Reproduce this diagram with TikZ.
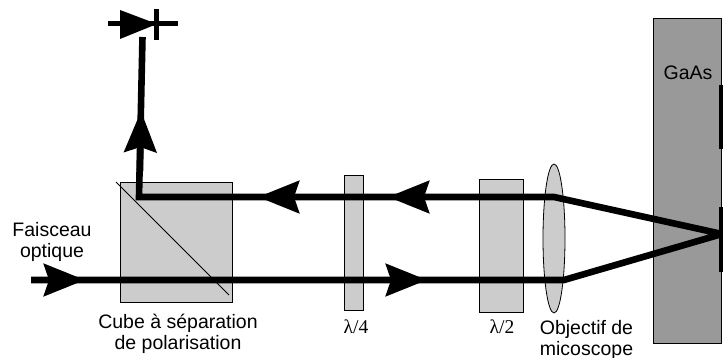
\documentclass[tikz,border=0pt]{standalone}
\usepackage{fontspec}
\setmainfont{Liberation Sans}
\newfontfamily\lamfont{Liberation Serif}
\usetikzlibrary{arrows.meta,shapes.geometric}
\tikzset{
	optic/.style={draw=black,fill=black!20,line width=0.8pt,inner sep=0,outer sep=0},
	beam/.style={line width=6.6pt,draw=black,line join=miter},
	headed/.style={beam,-{Stealth[length=41pt,width=32pt,inset=5pt]}},
	legend/.style={font=\fontsize{19.5}{21}\selectfont,align=center,inner sep=0},
	legendlam/.style={font=\fontsize{19.5}{21}\selectfont\lamfont,inner sep=0}
}
\begin{document}
\begin{tikzpicture}[x=1pt,y=-1pt]
	\useasboundingbox (0,0) rectangle (723,358);
	% optical elements
	\node[optic,minimum width=112pt,minimum height=120pt] (cube) at (176,242) {};
	\node[optic,minimum width=19pt,minimum height=135pt] (lamquatre) at (354,242.5) {};
	\node[optic,minimum width=44pt,minimum height=133pt] (lamdemi) at (501,245.5) {};
	\node[optic,ellipse,minimum width=22pt,minimum height=149pt] (lens) at (554,238.5) {};
	\node[optic,fill=black!40,minimum width=68pt,minimum height=325pt] (gaas) at (687,180.5) {};
	\fill (719,85) rectangle (723,149);
	\fill (719,207) rectangle (723,272);
	\coordinate (diagA) at (116,182);
	\coordinate (diagB) at (229,295);
	\draw[line width=0.8pt] (diagA) -- (diagB);
	% beam
	\coordinate (in) at (31,280);
	\coordinate (tipA) at (85,280);
	\coordinate (backB) at (370,280);
	\coordinate (tipB) at (427,280);
	\coordinate (lensB) at (564,280);
	\coordinate (spot) at (722,234);
	\coordinate (lensA) at (554,197);
	\coordinate (backC) at (449,197);
	\coordinate (tipC) at (388,197);
	\coordinate (backD) at (317,197);
	\coordinate (tipD) at (258,197);
	\coordinate (corner) at (139,197);
	\coordinate (backE) at (140,171);
	\coordinate (tipE) at (141,111);
	\coordinate (out) at (142.5,37);
	\draw[beam] (in) -- (lensB) -- (spot) -- (lensA) -- (corner) -- (out);
	\foreach \back/\tip in {in/tipA,backB/tipB,backC/tipC,backD/tipD,backE/tipE}
		\draw[headed] (\back) -- (\tip);
	% diode
	\coordinate (diodeL) at (108,24);
	\coordinate (diodeR) at (178,24);
	\coordinate (diodeT) at (157,24);
	\draw[line width=5pt] (diodeL) -- (diodeR);
	\fill (120,10) -- (diodeT) -- (120,39) -- cycle;
	\draw[line width=4.6pt] (156.5,9) -- (156.5,40);
	% labels
	\node[legend] (faisceau) at (52,241.5) {Faisceau\\optique};
	\node[legend] (cubelab) at (178,334) {Cube à séparation\\de polarisation};
	\node[legendlam] (lamquatrelab) at (356,327) {λ/4};
	\node[legendlam] (lamdemilab) at (502,327) {λ/2};
	\node[legend] (objectif) at (586.5,339.5) {Objectif de\\micoscope};
	\node[legend] (gaaslab) at (688,73) {GaAs};
\end{tikzpicture}
\end{document}
